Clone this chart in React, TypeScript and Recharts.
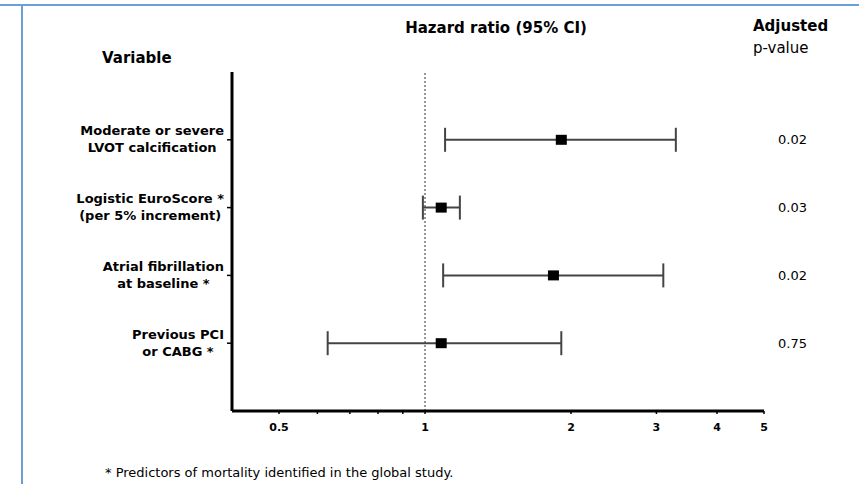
import React from "react";
import {
  ScatterChart,
  Scatter,
  XAxis,
  YAxis,
  ErrorBar,
  ReferenceLine,
} from "recharts";

// ---- Data ----
const variableLines: string[][] = [
  ["Moderate or severe", "LVOT calcification"],
  ["Logistic EuroScore *", "(per 5% increment)"],
  ["Atrial fibrillation", "at baseline *"],
  ["Previous PCI", "or CABG *"],
];
const rowPosition = [1, 2, 3, 4];
const hazardRatio = [1.91, 1.08, 1.84, 1.08];
const ciLower = [1.1, 0.99, 1.09, 0.63];
const ciUpper = [3.29, 1.18, 3.1, 1.91];
const pValues = ["0.02", "0.03", "0.02", "0.75"];
const xTicks = [0.5, 0.6, 0.7, 0.8, 0.9, 1, 2, 3, 4, 5];
const xTickLabels: Record<number, string> = { 0.5: "0.5", 1: "1", 2: "2", 3: "3", 4: "4", 5: "5" };

const rows = rowPosition.map((r, i) => ({
  row: r,
  hr: hazardRatio[i],
  err: [hazardRatio[i] - ciLower[i], ciUpper[i] - hazardRatio[i]],
}));

const FONT = "'DejaVu Sans', Verdana, sans-serif";

let ctx: CanvasRenderingContext2D | null = null;
function measure(text: string, font: string): number {
  if (!ctx) {
    const c = document.createElement("canvas");
    ctx = c.getContext("2d");
  }
  if (!ctx) return text.length * 7;
  ctx.font = font;
  return ctx.measureText(text).width;
}

const LeftTick = (props: any) => {
  const { x, y, payload } = props;
  const idx = rowPosition.indexOf(payload.value);
  if (idx < 0) return <g />;
  const lines = variableLines[idx];
  const font = `bold 13px 'DejaVu Sans'`;
  const maxW = Math.max(...lines.map((l) => measure(l, font)));
  const cx = x - 1 - maxW / 2;
  return (
    <g>
      <text x={cx} y={y - 4.5} textAnchor="middle" fontFamily={FONT} fontSize={13} fontWeight="bold" fill="#000">
        {lines[0]}
      </text>
      <text x={cx} y={y + 12.5} textAnchor="middle" fontFamily={FONT} fontSize={13} fontWeight="bold" fill="#000">
        {lines[1]}
      </text>
    </g>
  );
};

const RightTick = (props: any) => {
  const { x, y, payload } = props;
  const idx = rowPosition.indexOf(payload.value);
  if (idx < 0) return <g />;
  return (
    <text x={x} y={y + 4.5} textAnchor="start" fontFamily={FONT} fontSize={13} fill="#000">
      {pValues[idx]}
    </text>
  );
};

const BottomTick = (props: any) => {
  const { x, y, payload } = props;
  const label = xTickLabels[payload.value as number];
  if (!label) return <g />;
  return (
    <text x={x} y={y + 15} textAnchor="middle" fontFamily={FONT} fontSize={11} fontWeight="bold" fill="#000">
      {label}
    </text>
  );
};

const SquareShape = (props: any) => {
  const { cx, cy } = props;
  if (cx == null || cy == null) return <g />;
  return <rect x={cx - 5.5} y={cy - 5} width={11} height={10} fill="#000" />;
};

const EmptyShape = () => <g />;

export default function App() {
  return (
    <div
      style={{
        position: "absolute",
        left: 0,
        top: 0,
        width: 859,
        height: 484,
        background: "#fff",
        overflow: "hidden",
      }}
    >
      <ScatterChart width={859} height={484} margin={{ top: 72, right: 0, bottom: 43, left: 22 }}>
        <XAxis
          type="number"
          dataKey="hr"
          scale="log"
          domain={[0.4, 5]}
          allowDataOverflow
          ticks={xTicks}
          interval={0}
          height={30}
          tickSize={3}
          tickMargin={2}
          tick={BottomTick}
          axisLine={{ stroke: "#000", strokeWidth: 3 }}
          tickLine={{ stroke: "#000", strokeWidth: 1.5 }}
        />
        <YAxis
          yAxisId="left"
          type="number"
          dataKey="row"
          domain={[0, 5]}
          reversed
          ticks={rowPosition}
          interval={0}
          width={210}
          tickSize={5}
          tickMargin={2}
          tick={LeftTick}
          axisLine={{ stroke: "#000", strokeWidth: 3 }}
          tickLine={{ stroke: "#000", strokeWidth: 1.5 }}
        />
        <YAxis
          yAxisId="right"
          orientation="right"
          type="number"
          dataKey="row"
          domain={[0, 5]}
          reversed
          ticks={rowPosition}
          interval={0}
          width={95}
          tickSize={0}
          tickMargin={14}
          tick={RightTick}
          axisLine={false}
          tickLine={false}
        />
        <ReferenceLine x={1} yAxisId="left" stroke="#333" strokeWidth={1} strokeDasharray="2 2" />
        <Scatter yAxisId="right" data={rows} shape={EmptyShape} isAnimationActive={false} />
        <Scatter yAxisId="left" data={rows} shape={SquareShape} isAnimationActive={false}>
          <ErrorBar dataKey="err" direction="x" width={12} strokeWidth={2} stroke="#444" />
        </Scatter>
      </ScatterChart>
      <svg
        width={859}
        height={484}
        style={{ position: "absolute", left: 0, top: 0, pointerEvents: "none" }}
      >
        <rect x={0} y={4} width={859} height={2} fill="#6a9fd8" />
        <rect x={21} y={4} width={2} height={480} fill="#6a9fd8" />
        <text x={496} y={33} textAnchor="middle" fontFamily={FONT} fontSize={15} fontWeight="bold" fill="#000">
          Hazard ratio (95% CI)
        </text>
        <text x={102} y={63} textAnchor="start" fontFamily={FONT} fontSize={15} fontWeight="bold" fill="#000">
          Variable
        </text>
        <text x={753} y={31} textAnchor="start" fontFamily={FONT} fontSize={15} fontWeight="bold" fill="#000">
          Adjusted
        </text>
        <text x={753} y={53} textAnchor="start" fontFamily={FONT} fontSize={15} fill="#000">
          p-value
        </text>
        <text x={105} y={477} textAnchor="start" fontFamily={FONT} fontSize={13} fill="#000">
          * Predictors of mortality identified in the global study.
        </text>
      </svg>
    </div>
  );
}
